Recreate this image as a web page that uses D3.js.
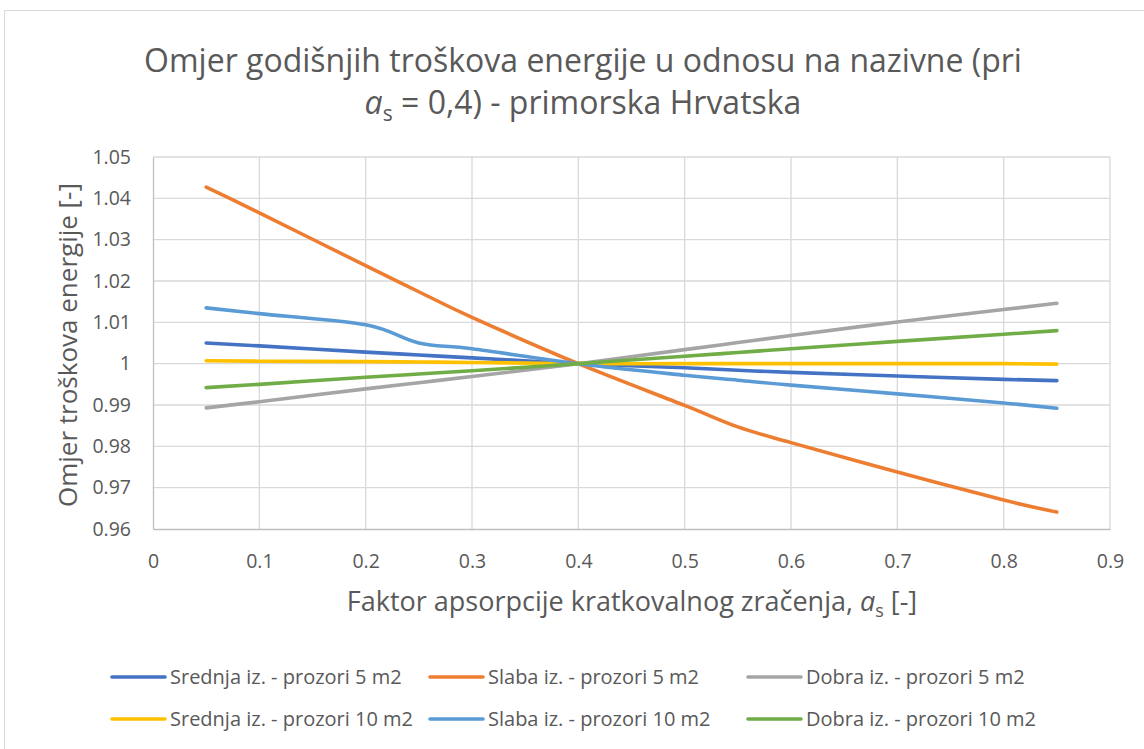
<!DOCTYPE html>
<html>
<head>
<meta charset="utf-8">
<script src="https://cdn.jsdelivr.net/npm/d3@7"></script>
<style>
  html, body { margin: 0; padding: 0; background: #fff; }
  svg { display: block; }
  text { font-family: "Open Sans", Lato, sans-serif; fill: #595959; }
</style>
</head>
<body>
<svg id="chart" width="1144" height="749"></svg>
<script>
// Absorption factor values (x) shared by all series
const absorption = [0.05, 0.1, 0.2, 0.25, 0.3, 0.4, 0.5, 0.55, 0.6, 0.7, 0.8, 0.85];

// Cost ratio relative to the nominal case (a_s = 0.4)
const srednja5  = [1.0050, 1.0043, 1.0028, 1.0021, 1.0014, 1.0000, 0.9990, 0.9984, 0.9979, 0.9970, 0.9962, 0.9959];
const slaba5    = [1.0427, 1.0365, 1.0237, 1.0174, 1.0112, 1.0000, 0.9899, 0.9847, 0.9809, 0.9738, 0.9670, 0.9641];
const dobra5    = [0.9893, 0.9908, 0.9939, 0.9954, 0.9969, 1.0000, 1.0034, 1.0051, 1.0068, 1.0101, 1.0131, 1.0146];
const srednja10 = [1.0007, 1.0006, 1.0005, 1.0004, 1.0003, 1.0000, 1.0000, 1.0000, 1.0000, 1.0000, 1.0000, 0.9999];
const slaba10   = [1.0135, 1.0121, 1.0094, 1.0050, 1.0036, 1.0000, 0.9972, 0.9960, 0.9948, 0.9927, 0.9905, 0.9892];
const dobra10   = [0.9942, 0.9950, 0.9967, 0.9975, 0.9983, 1.0000, 1.0018, 1.0027, 1.0036, 1.0054, 1.0071, 1.0080];

const seriesNames = [
  "Srednja iz. - prozori 5 m2", "Slaba iz. - prozori 5 m2", "Dobra iz. - prozori 5 m2",
  "Srednja iz. - prozori 10 m2", "Slaba iz. - prozori 10 m2", "Dobra iz. - prozori 10 m2"
];
const seriesValues = [srednja5, slaba5, dobra5, srednja10, slaba10, dobra10];
const seriesColors = ["#4472C4", "#ED7D31", "#A5A5A5", "#FFC000", "#5B9BD5", "#70AD47"];

const xTicks = [0, 0.1, 0.2, 0.3, 0.4, 0.5, 0.6, 0.7, 0.8, 0.9];
const yTicks = [0.96, 0.97, 0.98, 0.99, 1, 1.01, 1.02, 1.03, 1.04, 1.05];

const FONT = "'Open Sans', Lato, sans-serif";
const svg = d3.select("#chart");

// Outer chart frame
svg.append("rect")
  .attr("x", 4.5).attr("y", 10.5)
  .attr("width", 1160).attr("height", 760)
  .attr("fill", "#fff").attr("stroke", "#d9d9d9").attr("stroke-width", 1);

const plot = { left: 153, right: 1110, top: 157, bottom: 529 };

const x = d3.scaleLinear().domain([0, 0.9]).range([plot.left, plot.right]);
const y = d3.scaleLinear().domain([0.96, 1.05]).range([plot.bottom, plot.top]);

// Gridlines
const grid = svg.append("g");
grid.selectAll("line.v").data(xTicks.slice(1)).join("line")
  .attr("x1", d => x(d)).attr("x2", d => x(d))
  .attr("y1", plot.top).attr("y2", plot.bottom)
  .attr("stroke", "#d9d9d9").attr("stroke-width", 1.3);
grid.selectAll("line.h").data(yTicks.slice(1)).join("line")
  .attr("x1", plot.left).attr("x2", plot.right)
  .attr("y1", d => y(d)).attr("y2", d => y(d))
  .attr("stroke", "#d9d9d9").attr("stroke-width", 1.3);

// Axes
const xAxis = d3.axisBottom(x).tickValues(xTicks).tickSize(0).tickPadding(25)
  .tickFormat(d => d === 0 ? "0" : d3.format(".1f")(d));
const gx = svg.append("g").attr("transform", `translate(0,${plot.bottom})`).call(xAxis);
gx.select(".domain").attr("stroke", "#bfbfbf").attr("stroke-width", 1.3);
gx.selectAll("text").attr("font-size", 19.5).attr("fill", "#595959").attr("font-family", FONT);

const yAxis = d3.axisLeft(y).tickValues(yTicks).tickSize(0).tickPadding(22)
  .tickFormat(d => d === 1 ? "1" : d3.format(".2f")(d));
const gy = svg.append("g").attr("transform", `translate(${plot.left},0)`).call(yAxis);
gy.select(".domain").attr("stroke", "#bfbfbf").attr("stroke-width", 1.3);
gy.selectAll("text").attr("font-size", 19.5).attr("fill", "#595959").attr("font-family", FONT);

// Series lines (smoothed)
const line = d3.line()
  .x((d, i) => x(absorption[i]))
  .y(d => y(d))
  .curve(d3.curveCardinal.tension(0));

svg.append("g").selectAll("path").data(seriesValues).join("path")
  .attr("d", d => line(d))
  .attr("fill", "none")
  .attr("stroke", (d, i) => seriesColors[i])
  .attr("stroke-width", 3.6)
  .attr("stroke-linecap", "round")
  .attr("stroke-linejoin", "round");

// Title
svg.append("text").attr("text-anchor", "middle").attr("font-size", 32)
  .attr("x", 583).attr("y", 72)
  .text("Omjer godišnjih troškova energije u odnosu na nazivne (pri");
const t2 = svg.append("text").attr("text-anchor", "middle").attr("font-size", 32)
  .attr("x", 583).attr("y", 114);
t2.append("tspan").attr("font-style", "italic").text("a");
t2.append("tspan").attr("font-size", 21).attr("dy", 7).text("s");
t2.append("tspan").attr("dy", -7).text(" = 0,4) - primorska Hrvatska");

// Y axis title
svg.append("text")
  .attr("transform", `translate(77,${(plot.top + plot.bottom) / 2 + 2}) rotate(-90)`)
  .attr("text-anchor", "middle").attr("font-size", 26)
  .text("Omjer troškova energije [-]");

// X axis title
const xt = svg.append("text").attr("text-anchor", "middle").attr("font-size", 27)
  .attr("x", 632).attr("y", 611);
xt.append("tspan").text("Faktor apsorpcije kratkovalnog zračenja, ");
xt.append("tspan").attr("font-style", "italic").text("a");
xt.append("tspan").attr("font-size", 18).attr("dy", 6).text("s");
xt.append("tspan").attr("dy", -6).text(" [-]");

// Legend
const legendPos = [
  { lx: 112, ly: 677 }, { lx: 430, ly: 677 }, { lx: 748, ly: 677 },
  { lx: 112, ly: 719 }, { lx: 430, ly: 719 }, { lx: 748, ly: 719 }
];
const legend = svg.append("g").selectAll("g").data(seriesNames).join("g")
  .attr("transform", (d, i) => `translate(${legendPos[i].lx},${legendPos[i].ly})`);
legend.append("line")
  .attr("x1", 0).attr("x2", 53).attr("y1", 0).attr("y2", 0)
  .attr("stroke", (d, i) => seriesColors[i]).attr("stroke-width", 3.6)
  .attr("stroke-linecap", "round");
legend.append("text")
  .attr("x", 58).attr("y", 7).attr("font-size", 20)
  .text(d => d);
</script>
</body>
</html>
